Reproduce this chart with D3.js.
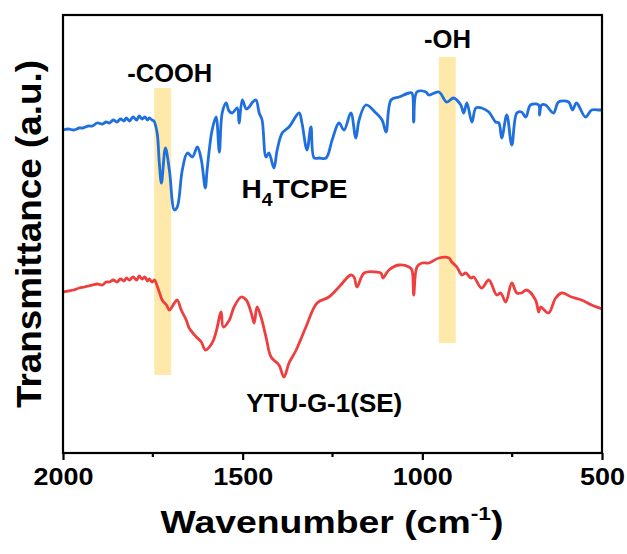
<!DOCTYPE html>
<html lang="en">
<head>
<meta charset="utf-8">
<title>FTIR spectra</title>
<script src="https://cdn.jsdelivr.net/npm/d3@7"></script>
<style>
  body { margin: 0; background: #fff; }
  text { font-family: "Liberation Sans", Arial, sans-serif; font-weight: bold; fill: #000; }
</style>
</head>
<body>
<div id="chart"></div>
<script>
// H4TCPE spectrum (wavenumber cm-1, transmittance a.u.)
const tcpeWn = [2000,1985,1970,1955,1945,1930,1918,1905,1890,1880,1871,1860,1850,1840,1830,1824,1815,1805,1795,1788,1780,1772,1765,1760,1752,1747,
  1738,1732,1726,1715,1704,1690,1682,1668,1654,1640,1626,1615,1604,1599,1585,1574,1565,1557,1546,1538,1529,1515,1510,1501,1490,1482,1472,1463,1454,1446,
  1435,1427,1413,1404,1390,1371,1343,1335,1321,1310,1301,1287,1268,1251,1232,1218,1199,1185,1176,1157,1129,1112,1101,1087,1065,1037,1029,1024,1015,
  990,982,954,932,913,893,885,876,862,851,835,815,796,787,779,765,751,737,724,712,699,676,674,668,657,635,621,593,582,571,546,529,507,500];
const tcpeT = [32.5,32.6,32.5,32.7,32.7,32.9,32.9,33.2,33.1,33.3,33.2,33.5,33.3,33.6,33.4,33.7,33.4,33.8,33.5,33.9,33.6,33.8,33.5,33.7,33.5,33.4,
  32.2,29.2,27.2,30.7,28.5,24.5,24.8,28.5,30.2,29.8,30.8,29.5,26.7,28.5,32.5,33.8,30.3,34.2,35.2,34.4,34.2,34.7,33.2,35.5,34.6,34.8,35.3,35.5,34.2,33.5,
  29.8,30.2,28.7,30.5,32.2,32.8,34.2,33.2,30.5,32.8,29.7,29.7,29.7,31.5,33.2,32.5,34.2,31.7,33.5,35.0,34.2,33.5,32.3,35.5,35.8,36.2,36.2,33.3,36.3,
  36.3,36.0,36.3,35.3,35.7,35.0,34.2,35.2,33.3,34.7,34.7,34.3,33.3,33.2,31.7,34.0,31.0,34.2,34.3,33.8,35.0,35.0,34.0,35.0,35.0,34.2,35.3,35.3,34.5,35.2,33.8,34.5,34.5,34.5];

// YTU-G-1(SE) spectrum
const ytuWn = [2000,1985,1970,1955,1940,1930,1918,1905,1890,1880,1871,1860,1850,1840,1830,1824,1815,1805,1795,1788,1780,1772,1765,1760,1752,1745,1740,
  1732,1724,1712,1704,1690,1682,1671,1657,1649,1629,1615,1604,1585,1574,1560,1554,1537,1524,1504,1490,1476,1468,1460,1449,1435,1421,1399,1385,1371,1351,
  1324,1293,1260,1232,1199,1190,1182,1162,1129,1115,1110,1093,1065,1037,1029,1024,1015,1001,982,954,926,918,904,890,879,865,857,835,815,793,782,768,
  751,737,724,710,685,676,671,649,629,612,585,557,529,507,500];
const ytuT = [16.3,16.4,16.5,16.7,16.8,16.9,17.0,17.1,17.0,17.3,17.3,17.5,17.3,17.6,17.4,17.7,17.5,17.8,17.5,17.9,17.6,17.8,17.4,17.6,17.3,17.5,17.1,
  16.3,15.5,15.0,14.5,15.2,15.5,14.5,13.5,12.7,11.8,11.3,10.5,11.2,12.3,14.3,12.8,13.5,14.8,15.8,15.5,14.2,13.2,14.8,13.8,11.8,9.8,9.0,7.8,9.2,10.5,
  12.8,15.2,15.8,16.8,18.0,17.8,16.8,18.2,18.3,18.2,17.7,18.5,19.0,18.8,18.5,16.0,18.8,19.2,19.2,19.7,19.7,19.3,18.8,18.0,18.2,17.7,17.8,16.7,17.5,16.0,16.2,15.3,
  17.2,16.2,16.2,16.5,15.5,14.3,14.8,14.2,15.7,16.2,15.8,15.5,15.0,14.7,14.6];

// highlighted bands: [from, to] wavenumber and [bottom, top] a.u.
const bandNames = ["COOH", "OH"];
const bandWn = [[1746, 1699], [954, 907]];
const bandT = [[8.0, 36.7], [11.2, 39.8]];

const majorTicks = [2000, 1500, 1000, 500];
const minorTicks = [1750, 1250, 750];

const W = 627, H = 554;
const plotL = 63, plotR = 602, plotT = 15, plotB = 453;

const x = d3.scaleLinear().domain([2000, 500]).range([plotL, plotR]);
const y = d3.scaleLinear().domain([0.2, 44]).range([plotB, plotT]);

const svg = d3.select("#chart").append("svg")
  .attr("width", W).attr("height", H);

// stretch a text horizontally to a given width, anchored at ax
function fit(sel, w, ax) {
  const b = sel.node().getBBox();
  const s = w / b.width;
  sel.attr("transform", `translate(${ax},0) scale(${s},1) translate(${-ax},0)`);
}

// bands
svg.selectAll("rect.band")
  .data(bandNames)
  .enter().append("rect")
  .attr("class", "band")
  .attr("x", (d, i) => x(bandWn[i][0]))
  .attr("width", (d, i) => x(bandWn[i][1]) - x(bandWn[i][0]))
  .attr("y", (d, i) => y(bandT[i][1]))
  .attr("height", (d, i) => y(bandT[i][0]) - y(bandT[i][1]))
  .attr("fill", "#fee9aa");

const line = d3.line()
  .x(d => x(d[0])).y(d => y(d[1]))
  .curve(d3.curveCatmullRom.alpha(0.5));

svg.append("path")
  .datum(tcpeWn.map((w, i) => [w, tcpeT[i]]))
  .attr("d", line)
  .attr("fill", "none")
  .attr("stroke", "#1f6fde")
  .attr("stroke-width", 2.8)
  .attr("stroke-linejoin", "round");

svg.append("path")
  .datum(ytuWn.map((w, i) => [w, ytuT[i]]))
  .attr("d", line)
  .attr("fill", "none")
  .attr("stroke", "#ef3e3e")
  .attr("stroke-width", 2.8)
  .attr("stroke-linejoin", "round");

// frame
svg.append("rect")
  .attr("x", plotL).attr("y", plotT)
  .attr("width", plotR - plotL).attr("height", plotB - plotT)
  .attr("fill", "none").attr("stroke", "#000").attr("stroke-width", 2.2);

// x axis
const xAxis = svg.append("g")
  .attr("transform", `translate(0,${plotB})`)
  .call(d3.axisBottom(x).tickValues(majorTicks).tickSize(7).tickPadding(8).tickFormat(d3.format("d")));
xAxis.select(".domain").remove();
xAxis.selectAll(".tick line").attr("stroke-width", 2.2);
const tickText = xAxis.selectAll(".tick text")
  .attr("font-size", 24).attr("font-family", "Liberation Sans, Arial, sans-serif")
  .attr("font-weight", "bold").attr("fill", "#000");
const tickScale = 60 / tickText.node().getBBox().width;
tickText.attr("transform", `scale(${tickScale},1)`);

svg.append("g")
  .attr("transform", `translate(0,${plotB})`)
  .selectAll("line")
  .data(minorTicks)
  .enter().append("line")
  .attr("x1", d => x(d)).attr("x2", d => x(d))
  .attr("y1", 0).attr("y2", 4)
  .attr("stroke", "#000").attr("stroke-width", 2.2);

// axis titles
const xt = svg.append("text")
  .attr("x", 332).attr("y", 533)
  .attr("text-anchor", "middle")
  .attr("font-size", 31);
xt.append("tspan").text("Wavenumber (cm");
xt.append("tspan").attr("font-size", 19).attr("dy", -13).text("-1");
xt.append("tspan").attr("dy", 13).text(")");
fit(xt, 343, 332);

svg.append("text")
  .attr("transform", "translate(41,234) rotate(-90)")
  .attr("text-anchor", "middle")
  .attr("font-size", 35)
  .attr("textLength", 348)
  .attr("lengthAdjust", "spacingAndGlyphs")
  .text("Transmittance (a.u.)");

// band labels
const cooh = svg.append("text")
  .attr("x", x(1703)).attr("y", y(37.3))
  .attr("text-anchor", "middle")
  .attr("font-size", 26)
  .text("-COOH");
fit(cooh, 85, x(1703));

const oh = svg.append("text")
  .attr("x", x(930)).attr("y", y(40.7))
  .attr("text-anchor", "middle")
  .attr("font-size", 26)
  .text("-OH");
fit(oh, 47, x(930));

// sample labels
const l1 = svg.append("text")
  .attr("x", x(1503)).attr("y", y(25.7))
  .attr("font-size", 26);
l1.append("tspan").text("H");
l1.append("tspan").attr("font-size", 18).attr("dy", 8).text("4");
l1.append("tspan").attr("dy", -8).text("TCPE");
fit(l1, 106, x(1503));

const l2 = svg.append("text")
  .attr("x", x(1490)).attr("y", y(4.3))
  .attr("font-size", 25)
  .text("YTU-G-1(SE)");
fit(l2, 156, x(1490));
</script>
</body>
</html>
